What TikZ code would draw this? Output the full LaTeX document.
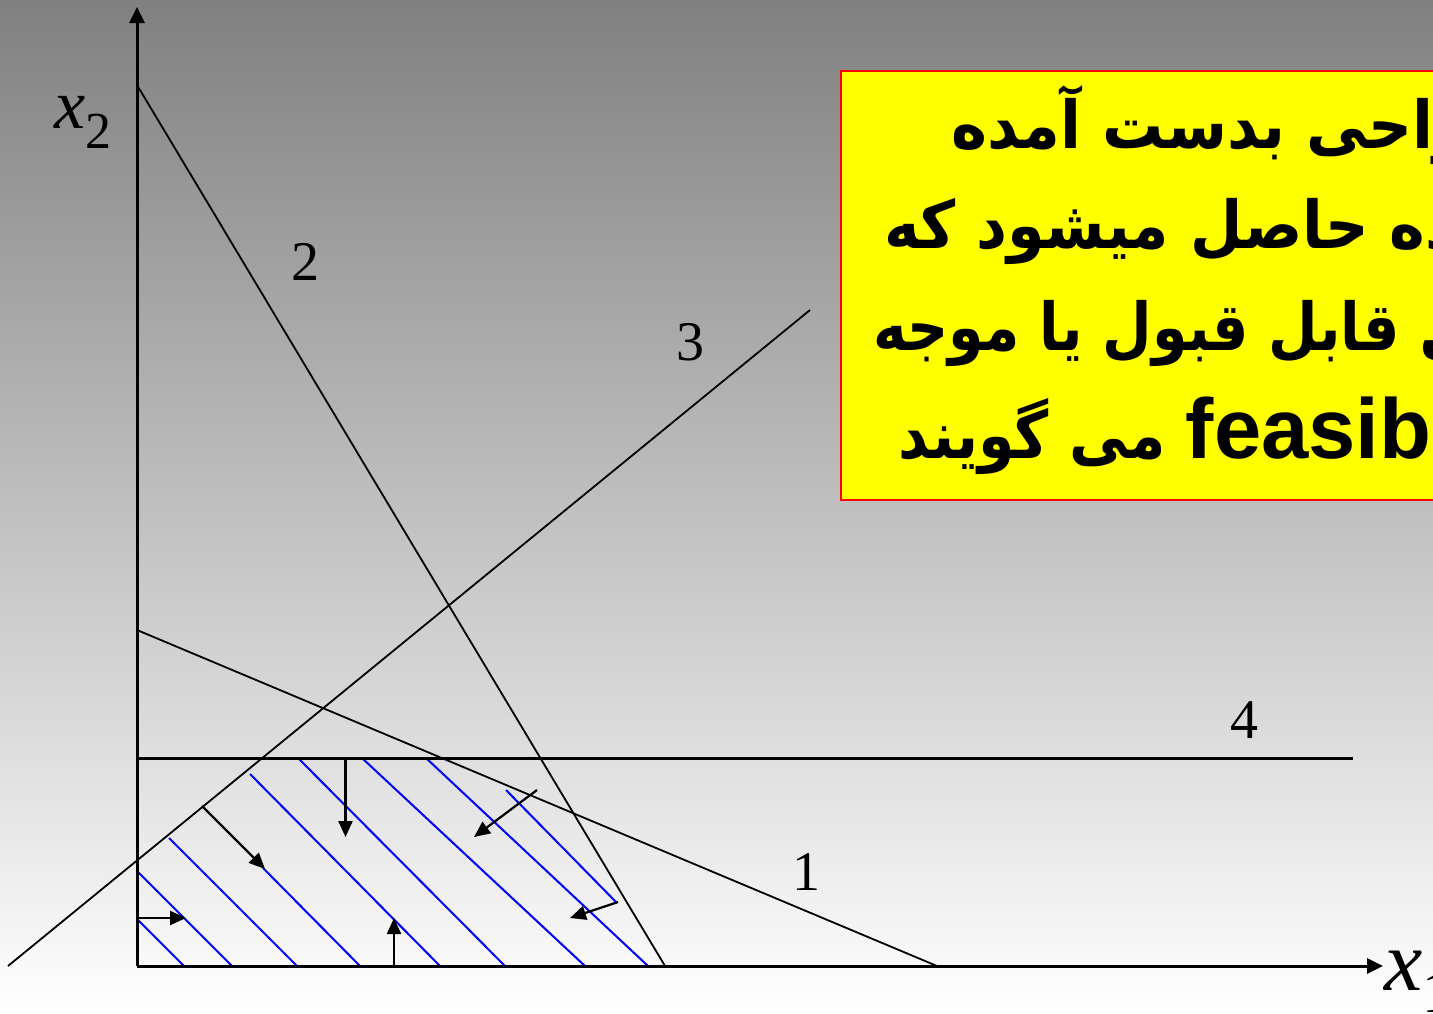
\documentclass[tikz,border=0pt]{standalone}
\usepackage{fontspec}
\setmainfont{Liberation Serif}
\newfontfamily\arabicA[Script=Arabic,FakeStretch=0.925]{DejaVu Sans}
\newfontfamily\arabicB[Script=Arabic,FakeStretch=0.915]{DejaVu Sans}
\newfontfamily\arabicC[Script=Arabic,FakeStretch=0.865]{DejaVu Sans}
\newfontfamily\arabicD[Script=Arabic,FakeStretch=0.89]{DejaVu Sans}
\newfontfamily\latinbold{Liberation Sans}
\TeXXeTstate=1
\usetikzlibrary{arrows.meta}
\definecolor{bgtop}{RGB}{128,128,128}
\definecolor{boxyellow}{RGB}{255,255,0}
\definecolor{boxred}{RGB}{255,0,0}
\definecolor{hatchblue}{RGB}{0,0,255}
\begin{document}
\begin{tikzpicture}[x=1pt,y=-1pt,
  axis/.style={line width=3pt,-{Triangle[length=16pt,width=15pt]}},
  cline/.style={line width=1.8pt},
  hatch/.style={hatchblue,line width=2pt},
  dirarrow/.style={line width=2.2pt,-{Triangle[length=16pt,width=14pt]}},
  numlabel/.style={font=\fontsize{56}{56}\selectfont,inner sep=0pt},
  persian/.style={anchor=base west,inner sep=0pt,font=\bfseries\fontsize{66}{66}\selectfont}]
\useasboundingbox (0,0) rectangle (1433,1013);
\shade[top color=bgtop,bottom color=white] (0,0) rectangle (1433,1013);

% coordinates
\coordinate (O) at (137,966);
\coordinate (ytop) at (137,7);
\coordinate (xend) at (1383,966);
\coordinate (l2a) at (137,85);   \coordinate (l2b) at (665,966);
\coordinate (l3a) at (8,966);    \coordinate (l3b) at (810,310);
\coordinate (l1a) at (137,630);  \coordinate (l1b) at (937,966);
\coordinate (l4a) at (137,758);  \coordinate (l4b) at (1353,758);

% hatching
\foreach \a/\b in {{(137,919)}/{(184,966)},{(137,871)}/{(232,966)},{(169,838)}/{(297,966)},
  {(263,868)}/{(360,966)},{(250,774)}/{(440,966)},{(298,758)}/{(505,966)},
  {(362,758)}/{(585,966)},{(426,758)}/{(648,966)},{(506,790)}/{(616,902)}}
  \draw[hatch] \a -- \b;

% constraint lines
\draw[cline] (l2a) -- (l2b);
\draw[cline] (l3a) -- (l3b);
\draw[cline] (l1a) -- (l1b);
\draw[line width=3pt] (l4a) -- (l4b);

% axes
\draw[axis] (O) -- (ytop);
\draw[axis] (O) -- (xend);

% direction arrows
\coordinate (d1a) at (345.5,758); \coordinate (d1b) at (345.5,837);
\coordinate (d2a) at (202,806);   \coordinate (d2b) at (265,869);
\coordinate (d3a) at (537,790);   \coordinate (d3b) at (474,837);
\coordinate (d4a) at (618,902);   \coordinate (d4b) at (570,918);
\coordinate (d5a) at (394,966);   \coordinate (d5b) at (394,918);
\coordinate (d6a) at (137,918);   \coordinate (d6b) at (186,918);
\foreach \i in {1,...,6} \draw[dirarrow] (d\i a) -- (d\i b);

% labels
\node[numlabel] (n2) at (305,262) {2};
\node[numlabel] (n3) at (690,342) {3};
\node[numlabel] (n1) at (806,872) {1};
\node[numlabel] (n4) at (1244,720) {4};
\node[anchor=base west,inner sep=0pt,font=\fontsize{70}{70}\selectfont] (x2) at (54,128)
  {\itshape x\upshape\raisebox{-20pt}{\fontsize{52}{52}\selectfont 2}};

\begin{scope}
\clip (0,0) rectangle (1433,1013);
\node[anchor=base west,inner sep=0pt,font=\fontsize{86}{86}\selectfont] (x1) at (1384,990)
  {\itshape x\upshape\raisebox{-22pt}{\fontsize{60}{60}\selectfont 1}};
\draw[boxred,fill=boxyellow,line width=2pt] (841,71) rectangle (1480,500);
\node[persian] (t1) at (951,148) {\arabicA\beginR نواحی بدست آمده\endR};
\node[persian] (t2) at (884,248) {\arabicB\beginR محدوده حاصل میشود که\endR};
\node[persian] (t3) at (873,350) {\arabicC\beginR حل قابل قبول یا موجه\endR};
\node[persian] (t4) at (898,458) {\arabicD\beginR\beginL{\latinbold\bfseries\fontsize{85}{85}\selectfont feasible region}\endL{} می گویند\endR};
\end{scope}
\end{tikzpicture}
\end{document}
